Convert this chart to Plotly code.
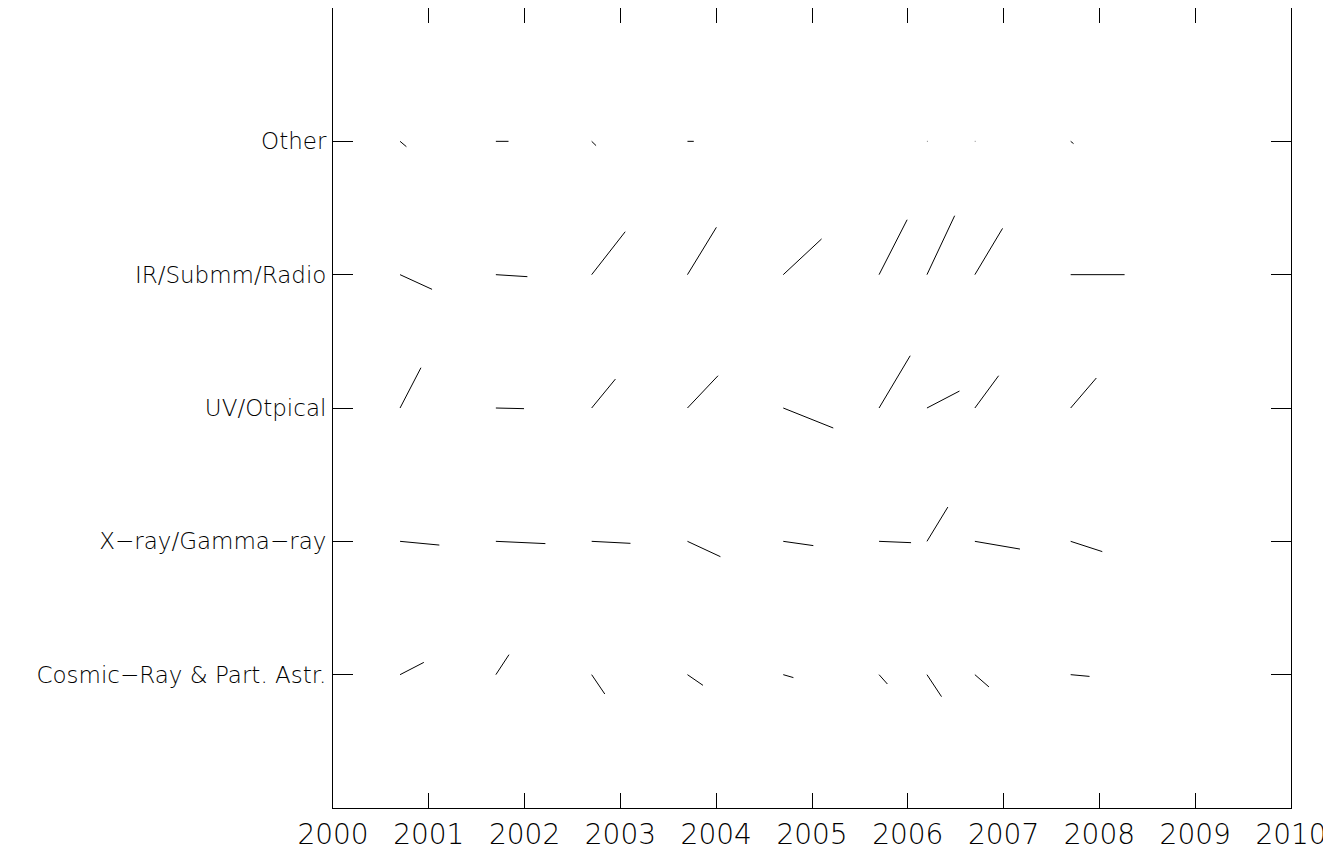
import plotly.graph_objects as go

# Categories (bottom to top)
categories = ["Cosmic\u2212Ray & Part. Astr.", "X\u2212ray/Gamma\u2212ray", "UV/Otpical",
              "IR/Submm/Radio", "Other"]
cat_pos = [1, 2, 3, 4, 5]

# Start times of each vector
times = [2000.7, 2001.7, 2002.7, 2003.7, 2004.7, 2005.7, 2006.2, 2006.7, 2007.7]

# Vector components (dx in years, dy in category units) for each category
cosmic_dx = [0.248, 0.137, 0.137, 0.162, 0.106, 0.087, 0.152, 0.147, 0.197]
cosmic_dy = [0.092, 0.150, -0.145, -0.080, -0.022, -0.070, -0.165, -0.092, -0.013]

xray_dx = [0.410, 0.517, 0.405, 0.344, 0.314, 0.334, 0.218, 0.471, 0.330]
xray_dy = [-0.028, -0.017, -0.015, -0.115, -0.032, -0.010, 0.257, -0.058, -0.077]

uv_dx = [0.218, 0.294, 0.248, 0.319, 0.522, 0.325, 0.339, 0.248, 0.268]
uv_dy = [0.302, -0.005, 0.217, 0.242, -0.150, 0.392, 0.127, 0.242, 0.225]

ir_dx = [0.334, 0.329, 0.350, 0.302, 0.400, 0.293, 0.289, 0.289, 0.563]
ir_dy = [-0.110, -0.015, 0.322, 0.355, 0.268, 0.412, 0.442, 0.347, 0.000]

other_dx = [0.066, 0.132, 0.046, 0.066, 0.0, 0.0, 0.005, 0.005, 0.030]
other_dy = [-0.040, 0.000, -0.032, 0.000, 0.0, 0.0, 0.000, 0.000, -0.017]

years = list(range(2000, 2011))

series = [(cosmic_dx, cosmic_dy), (xray_dx, xray_dy), (uv_dx, uv_dy),
          (ir_dx, ir_dy), (other_dx, other_dy)]

fig = go.Figure()
for pos, (dxs, dys) in zip(cat_pos, series):
    xs, ys = [], []
    for t, dx, dy in zip(times, dxs, dys):
        if dx == 0 and dy == 0:
            continue
        xs += [t, t + dx, None]
        ys += [pos, pos + dy, None]
    fig.add_trace(go.Scatter(x=xs, y=ys, mode="lines",
                             line=dict(color="black", width=1),
                             hoverinfo="skip", showlegend=False))

font_family = "DejaVu Sans ExtraLight, DejaVu Sans"
fig.update_layout(
    width=1323, height=848,
    margin=dict(l=325, r=40, t=0, b=48, autoexpand=False),
    paper_bgcolor="white", plot_bgcolor="white",
    showlegend=False,
    font=dict(family=font_family, color="black"),
)
fig.update_xaxes(
    range=[2000, 2010], tickmode="array", tickvals=years,
    ticktext=[str(y) for y in years],
    ticks="inside", ticklen=15, tickwidth=1, tickcolor="black",
    showline=True, linecolor="black", linewidth=1, mirror="ticks",
    showgrid=False, zeroline=False,
    tickfont=dict(size=28, family=font_family, color="black", weight=200),
    ticklabelstandoff=1,
    automargin=False,
)
fig.update_yaxes(
    range=[0, 6], tickmode="array", tickvals=[0] + cat_pos + [6],
    ticktext=[""] + categories + [""],
    ticks="inside", ticklen=20, tickwidth=1, tickcolor="black",
    showline=True, linecolor="black", linewidth=1, mirror="ticks",
    showgrid=False, zeroline=False,
    tickfont=dict(size=23, family=font_family, color="black", weight=200),
    ticklabelstandoff=1,
    automargin=False,
)

fig.write_html("out.html")
